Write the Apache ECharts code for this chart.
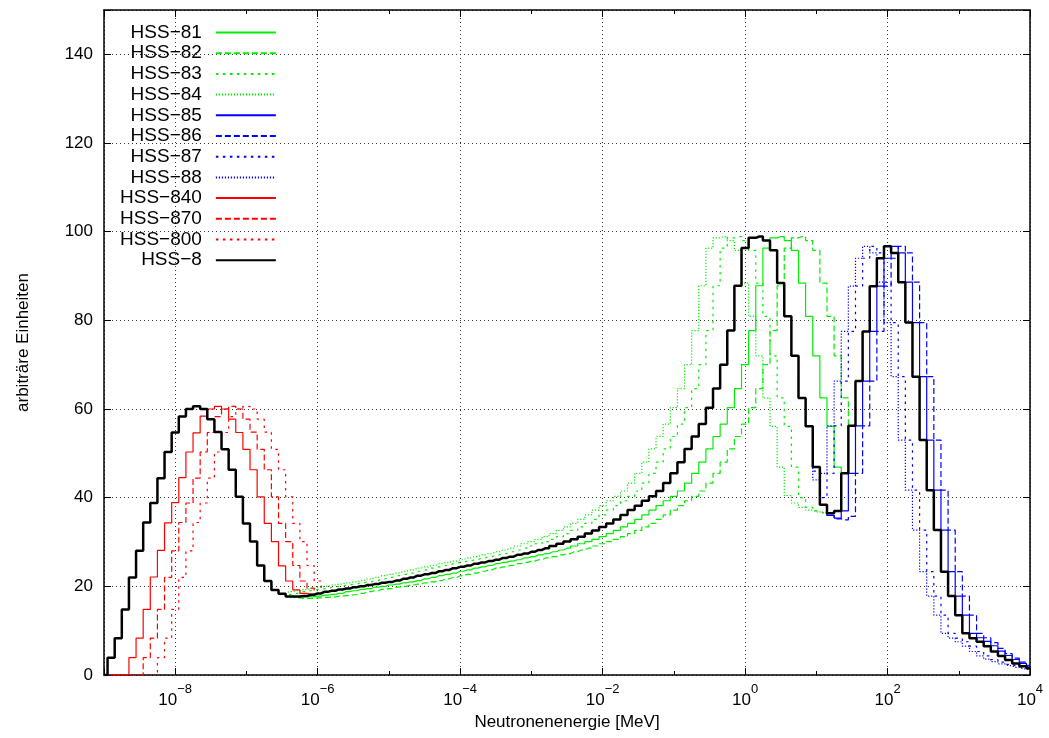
<!DOCTYPE html>
<html>
<head>
<meta charset="utf-8">
<script src="https://cdn.jsdelivr.net/npm/echarts@6/dist/echarts.min.js"></script>
<style>
html, body { margin: 0; padding: 0; background: #fff; }
#spektrum { width: 1049px; height: 738px; }
</style>
</head>
<body>
<div id="spektrum"></div>
<script type="text/javascript">
// x is log10(E / MeV), one bin = 0.1 decade, values are bin contents
var binStep = 0.1;

// HSS-8 (reference spectrum, whole range)
var hss8Start = -9.0;
var hss8 = [0, 3.9, 8.3, 14.8, 22.0, 28.0, 34.4, 38.8, 44.4, 50.3,
	54.7, 58.3, 60.0, 60.6, 60.0, 57.7, 54.8, 50.9, 46.3, 40.2,
	34.2, 30.1, 24.7, 21.2, 19.2, 18.3, 17.7, 17.7, 17.8, 18.1,
	18.4, 18.8, 19.0, 19.3, 19.5, 19.8, 20.0, 20.3, 20.5, 20.8,
	21.0, 21.3, 21.7, 22.0, 22.4, 22.7, 23.0, 23.4, 23.7, 24.1,
	24.4, 24.7, 25.1, 25.4, 25.7, 26.0, 26.4, 26.7, 27.1, 27.4,
	27.8, 28.2, 28.6, 29.1, 29.6, 30.1, 30.6, 31.2, 31.9, 32.6,
	33.4, 34.2, 35.1, 36.1, 37.2, 38.2, 39.3, 40.3, 41.5, 43.3,
	45.5, 48.0, 51.0, 53.8, 56.6, 60.3, 64.6, 70.0, 77.7, 87.8,
	96.3, 98.6, 98.9, 98.0, 95.8, 88.4, 80.9, 72.0, 62.5, 56.1,
	46.9, 38.4, 36.5, 37.0, 45.5, 56.2, 66.3, 77.5, 87.7, 94.0,
	96.7, 95.2, 88.6, 79.5, 67.3, 53.0, 41.7, 32.7, 23.3, 17.8,
	13.5, 9.4, 8.3, 7.5, 6.5, 5.3, 4.3, 3.4, 2.6, 2.0, 1.5];

// thermal variants (red)
var hss840Start = -9.0;
var hss840 = [0, 0, 0, 0, 3.9, 8.3, 14.8, 22.1, 28.1, 34.3, 38.9,
	44.5, 50.3, 54.6, 58.4, 60.0, 60.6, 60.0, 57.7, 54.7, 50.9,
	46.3, 40.2, 34.2, 30.1, 24.6, 21.2, 19.2, 18.4, 18.2, 18.4];
var hss870Start = -9.0;
var hss870 = [0, 0, 0, 0, 0, 0, 3.9, 8.3, 14.8, 22.0, 28.0,
	34.4, 38.8, 44.4, 50.3, 54.7, 58.3, 60.0, 60.6, 60.0, 57.7,
	54.8, 50.9, 46.3, 40.2, 34.2, 30.1, 24.7, 21.2, 19.6, 19.0];
var hss800Start = -9.0;
var hss800 = [0, 0, 0, 0, 0, 0, 0, 0, 3.9, 8.3, 14.8,
	22.0, 28.0, 34.4, 38.8, 44.4, 50.3, 54.7, 58.3, 60.0, 60.6,
	60.0, 57.7, 54.8, 50.9, 46.3, 40.2, 34.2, 30.1, 24.7, 21.2, 19.8];

// fast variants (green)
var hss81Start = -6.4;
var hss81 = [17.7, 17.6, 17.6, 17.7, 17.8,
	18.0, 18.2, 18.4, 18.8, 19.0, 19.3, 19.5, 19.8, 20.0, 20.3,
	20.5, 20.8, 21.0, 21.3, 21.7, 22.0, 22.4, 22.7, 23.0, 23.4,
	23.7, 24.1, 24.4, 24.7, 25.1, 25.4, 25.7, 26.0, 26.4, 26.7,
	27.1, 27.4, 27.8, 28.2, 28.6, 29.1, 29.6, 30.1, 30.6, 31.2,
	31.9, 32.6, 33.4, 34.2, 35.1, 36.1, 37.2, 38.2, 39.3, 40.3,
	41.5, 43.3, 45.5, 48.0, 51.0, 53.8, 56.6, 60.3, 64.6, 70.0,
	77.7, 87.8, 96.3, 98.6, 98.9, 98.0, 95.8, 88.4, 80.9, 72.0,
	62.5, 56.1, 46.9, 45.5, 56.2];
var hss82Start = -6.4;
var hss82 = [17.6, 17.4, 17.3, 17.3, 17.4,
	17.5, 17.6, 17.8, 17.9, 18.1, 18.4, 18.8, 19.0, 19.3, 19.5,
	19.8, 20.0, 20.3, 20.5, 20.8, 21.0, 21.3, 21.7, 22.0, 22.4,
	22.7, 23.0, 23.4, 23.7, 24.1, 24.4, 24.7, 25.1, 25.4, 25.7,
	26.0, 26.4, 26.7, 27.1, 27.4, 27.8, 28.2, 28.6, 29.1, 29.6,
	30.1, 30.6, 31.2, 31.9, 32.6, 33.4, 34.2, 35.1, 36.1, 37.2,
	38.2, 39.3, 40.3, 41.5, 43.3, 45.5, 48.0, 51.0, 53.8, 56.6,
	60.3, 64.6, 70.0, 77.7, 87.8, 96.3, 98.6, 98.9, 98.0, 95.8,
	88.4, 80.9, 72.0, 62.5, 56.2];
var hss83Start = -6.5;
var hss83 = [18.3, 18.2, 18.4, 18.8, 19.0, 19.3,
	19.5, 19.8, 20.0, 20.3, 20.5, 20.8, 21.0, 21.3, 21.7, 22.0,
	22.4, 22.7, 23.0, 23.4, 23.7, 24.1, 24.4, 24.7, 25.1, 25.4,
	25.7, 26.0, 26.4, 26.7, 27.1, 27.4, 27.8, 28.2, 28.6, 29.1,
	29.6, 30.1, 30.6, 31.2, 31.9, 32.6, 33.4, 34.2, 35.1, 36.1,
	37.2, 38.2, 39.3, 40.3, 41.5, 43.3, 45.5, 48.0, 51.0, 53.8,
	56.6, 60.3, 64.6, 70.0, 77.7, 87.8, 96.3, 98.6, 98.9, 98.0,
	95.8, 88.4, 80.9, 72.0, 62.5, 56.1, 46.9, 40.0, 37.8, 37.0,
	36.6, 36.4, 37.0, 45.5];
var hss84Start = -6.5;
var hss84 = [18.4, 18.8, 19.0, 19.3, 19.5, 19.8,
	20.0, 20.3, 20.5, 20.8, 21.0, 21.3, 21.7, 22.0, 22.4, 22.7,
	23.0, 23.4, 23.7, 24.1, 24.4, 24.7, 25.1, 25.4, 25.7, 26.0,
	26.4, 26.7, 27.1, 27.4, 27.8, 28.2, 28.6, 29.1, 29.6, 30.1,
	30.6, 31.2, 31.9, 32.6, 33.4, 34.2, 35.1, 36.1, 37.2, 38.2,
	39.3, 40.3, 41.5, 43.3, 45.5, 48.0, 51.0, 53.8, 56.6, 60.3,
	64.6, 70.0, 77.7, 87.8, 96.3, 98.6, 98.9, 98.0, 95.8, 88.4,
	80.9, 72.0, 62.5, 56.1, 46.9, 40.5, 38.8, 37.8, 37.2, 36.8,
	36.5, 36.4, 37.0, 45.5];

// high energy variants (blue)
var hss85Start = 1.1;
var hss85 = [38.4, 36.0, 35.4, 37.0, 45.5, 56.2, 66.3, 77.5, 87.7, 94.0,
	96.7, 95.2, 88.6, 79.5, 67.3, 53.0, 41.7, 32.7, 23.3, 17.8,
	13.5, 9.4, 8.4, 7.6, 6.6, 5.4, 4.4, 3.5, 2.6, 2.0];
var hss86Start = 1.1;
var hss86 = [38.4, 36.0, 35.2, 35.0, 35.8, 45.5, 56.2, 66.3, 77.5, 87.7,
	94.0, 96.7, 95.2, 88.6, 79.5, 67.3, 53.0, 41.7, 32.7, 23.3,
	17.8, 13.5, 9.4, 8.4, 7.3, 6.0, 4.8, 3.8, 2.9, 2.2];
var hss87Start = 0.9;
var hss87 = [56.1, 46.0,
	40.0, 45.5, 56.2, 66.3, 77.5, 87.7, 94.0, 96.7, 95.2, 88.6,
	79.5, 67.3, 53.0, 41.7, 32.7, 23.3, 17.8, 13.5, 9.4, 8.3,
	7.5, 6.5, 5.3, 4.3, 3.5, 2.9, 2.4, 2.0, 1.6, 1.3];
var hss88Start = 0.9;
var hss88 = [56.1, 44.0,
	45.5, 56.2, 66.3, 77.5, 87.7, 94.0, 96.7, 95.2, 88.6, 79.5,
	67.3, 53.0, 41.7, 32.7, 23.3, 17.8, 13.5, 9.4, 8.3, 7.5,
	6.5, 5.3, 4.3, 3.6, 3.0, 2.5, 2.1, 1.7, 1.4, 1.1];

var seriesNames = ['HSS−81', 'HSS−82', 'HSS−83', 'HSS−84', 'HSS−85', 'HSS−86',
	'HSS−87', 'HSS−88', 'HSS−840', 'HSS−870', 'HSS−800', 'HSS−8'];

var fontName = 'Liberation Sans, Arial, sans-serif';
var green = '#00ee00', blue = '#0000ff', red = '#ff0000';
var dashLong = [6, 3], dashShort = [2.5, 4.5], dotFine = [1.2, 1.8];

function toSteps(start, vals) {
	var pts = [];
	for (var i = 0; i < vals.length; i++) {
		pts.push([Math.round((start + i * binStep) * 10) / 10, vals[i]]);
	}
	return pts;
}

function histo(name, start, vals, color, dash, width) {
	return {
		name: name,
		type: 'line',
		step: 'middle',
		symbol: 'none',
		silent: true,
		xAxisIndex: 0,
		yAxisIndex: 0,
		itemStyle: { color: color },
		lineStyle: { color: color, width: width, type: dash },
		data: toSteps(start, vals)
	};
}

function expLabel(v) {
	if (v % 2 !== 0) return '';
	var s = v < 0 ? '−' + (-v) : '' + v;
	return '{b|10}{s|' + s + '}';
}

var chart = echarts.init(document.getElementById('spektrum'));

var axisBlack = { color: '#000', width: 1.5 };
var gridDots = { color: '#333', width: 1, type: [1, 3] };

var option = {
	backgroundColor: '#fff',
	animation: false,
	grid: { left: 104, right: 19, top: 10, bottom: 63 },
	legend: {
		orient: 'vertical',
		align: 'right',
		left: 120,
		top: 23,
		padding: 0,
		itemWidth: 60,
		itemHeight: 14,
		itemGap: 1.7,
		selectedMode: false,
		itemStyle: { opacity: 0 },
		textStyle: { fontFamily: fontName, fontSize: 19, color: '#000', padding: [0, 9, 0, 0] },
		data: seriesNames
	},
	xAxis: [
		{	// every decade, short ticks
			type: 'value', position: 'bottom', min: -9, max: 4, interval: 1,
			axisLine: { show: true, onZero: false, lineStyle: axisBlack },
			axisTick: { inside: true, length: 4, lineStyle: { color: '#000' } },
			axisLabel: { show: false },
			splitLine: { show: false }
		},
		{	// every second decade, labels and grid
			type: 'value', position: 'bottom', min: -9, max: 4, splitNumber: 6,
			name: 'Neutronenenergie [MeV]',
			nameLocation: 'middle',
			nameGap: 34,
			nameTextStyle: { fontFamily: fontName, fontSize: 17, color: '#000' },
			axisLine: { show: false, onZero: false },
			axisTick: { inside: true, length: 7, lineStyle: { color: '#000' } },
			axisLabel: {
				margin: 8,
				formatter: expLabel,
				rich: {
					b: { fontFamily: fontName, fontSize: 17, color: '#000', lineHeight: 26, verticalAlign: 'bottom' },
					s: { fontFamily: fontName, fontSize: 13, color: '#000', lineHeight: 15, verticalAlign: 'top' }
				}
			},
			splitLine: { show: true, lineStyle: gridDots }
		},
		{
			type: 'value', position: 'top', min: -9, max: 4, interval: 1,
			axisLine: { show: true, onZero: false, lineStyle: axisBlack },
			axisTick: { inside: true, length: 4, lineStyle: { color: '#000' } },
			axisLabel: { show: false },
			splitLine: { show: false }
		},
		{
			type: 'value', position: 'top', min: -9, max: 4, splitNumber: 6,
			axisLine: { show: false, onZero: false },
			axisTick: { inside: true, length: 7, lineStyle: { color: '#000' } },
			axisLabel: { show: false },
			splitLine: { show: false }
		}
	],
	yAxis: [
		{
			type: 'value', position: 'left', min: 0, max: 150, interval: 20,
			name: 'arbiträre Einheiten',
			nameLocation: 'middle',
			nameGap: 72,
			nameTextStyle: { fontFamily: fontName, fontSize: 17, color: '#000' },
			axisLine: { show: true, onZero: false, lineStyle: axisBlack },
			axisTick: { inside: true, length: 7, lineStyle: { color: '#000' } },
			axisLabel: {
				margin: 11, fontFamily: fontName, fontSize: 17, color: '#000',
				formatter: function (v) { return v > 140 ? '' : v; }
			},
			splitLine: { show: true, lineStyle: gridDots }
		},
		{
			type: 'value', position: 'right', min: 0, max: 150, interval: 20,
			axisLine: { show: true, onZero: false, lineStyle: axisBlack },
			axisTick: { inside: true, length: 7, lineStyle: { color: '#000' } },
			axisLabel: { show: false },
			splitLine: { show: false }
		}
	],
	series: [
		histo(seriesNames[0], hss81Start, hss81, green, 'solid', 1.2),
		histo(seriesNames[1], hss82Start, hss82, green, dashLong, 1.2),
		histo(seriesNames[2], hss83Start, hss83, green, dashShort, 1.2),
		histo(seriesNames[3], hss84Start, hss84, green, dotFine, 1.2),
		histo(seriesNames[4], hss85Start, hss85, blue, 'solid', 1.2),
		histo(seriesNames[5], hss86Start, hss86, blue, dashLong, 1.2),
		histo(seriesNames[6], hss87Start, hss87, blue, dashShort, 1.2),
		histo(seriesNames[7], hss88Start, hss88, blue, dotFine, 1.2),
		histo(seriesNames[8], hss840Start, hss840, red, 'solid', 1.2),
		histo(seriesNames[9], hss870Start, hss870, red, dashLong, 1.2),
		histo(seriesNames[10], hss800Start, hss800, red, dashShort, 1.2),
		histo(seriesNames[11], hss8Start, hss8, '#000', 'solid', 2.5)
	]
};

chart.setOption(option);
</script>
</body>
</html>
